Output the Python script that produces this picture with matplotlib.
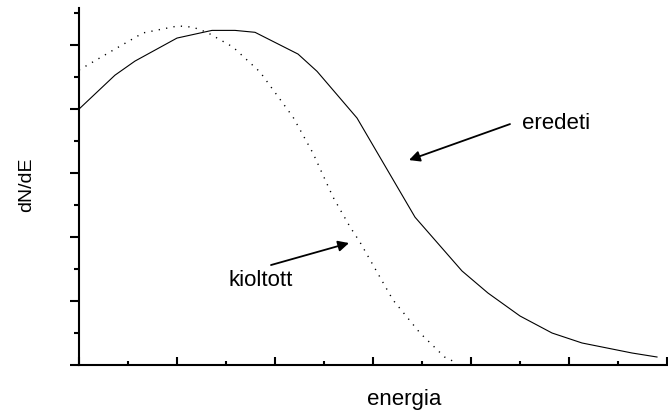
import matplotlib
matplotlib.use("Agg")
import matplotlib.pyplot as plt
from matplotlib.ticker import MultipleLocator, NullFormatter

plt.rcParams['font.family'] = ['Liberation Sans', 'DejaVu Sans']

# original spectrum ("eredeti")
energy_orig = [0.0, 0.367, 0.571, 1.0, 1.357, 1.592, 1.796, 2.235, 2.429, 2.837,
               3.429, 3.908, 4.173, 4.5, 4.827, 5.133, 5.643, 5.898]
dnde_orig = [4.0, 4.53, 4.75, 5.11, 5.23, 5.23, 5.20, 4.86, 4.59, 3.86,
             2.31, 1.47, 1.125, 0.766, 0.5, 0.344, 0.1875, 0.125]

# quenched spectrum ("kioltott")
energy_quen = [0.0, 0.347, 0.653, 1.01, 1.163, 1.306, 1.571, 1.847, 2.184, 2.388,
               2.592, 2.765, 2.867, 3.204, 3.48, 3.73, 3.857]
dnde_quen = [4.61, 4.92, 5.19, 5.30, 5.28, 5.20, 4.97, 4.58, 3.875, 3.31,
             2.625, 2.16, 1.92, 1.016, 0.5, 0.125, 0.03]

fig = plt.figure(figsize=(6.68, 4.12), dpi=100)
ax = fig.add_axes([79 / 668, 1 - 365 / 412, 588 / 668, 357 / 412])

ax.plot(energy_orig, dnde_orig, color='black', lw=0.8)
ax.plot(energy_quen, dnde_quen, color='black', lw=1.0, linestyle=(0, (0.9, 4.5)))

ax.set_xlim(0, 6)
ax.set_ylim(0, 5.58)

for side in ('top', 'right'):
    ax.spines[side].set_visible(False)
for side in ('left', 'bottom'):
    ax.spines[side].set_linewidth(1.5)

ax.xaxis.set_major_locator(MultipleLocator(1))
ax.xaxis.set_minor_locator(MultipleLocator(0.5))
ax.yaxis.set_major_locator(MultipleLocator(1))
ax.yaxis.set_minor_locator(MultipleLocator(0.5))
ax.xaxis.set_major_formatter(NullFormatter())
ax.yaxis.set_major_formatter(NullFormatter())

ax.tick_params(axis='x', which='major', direction='in', length=6, width=1.5)
ax.tick_params(axis='x', which='minor', direction='in', length=3, width=1.5)
ax.tick_params(axis='y', which='major', direction='out', length=6.5, width=1.5)
ax.tick_params(axis='y', which='minor', direction='out', length=3.5, width=1.5)

fig.text(27 / 668, 1 - 185 / 412, 'dN/dE', rotation=90, ha='center', va='center',
         fontsize=14)
fig.text(404 / 668, 1 - 399 / 412, 'energia', ha='center', va='center', fontsize=16)

arrow = dict(arrowstyle='-|>', color='black', lw=1.3, mutation_scale=16,
             shrinkA=0, shrinkB=0)
ax.annotate('', xy=((409 - 79) / 98, (365 - 160) / 64),
            xytext=((510 - 79) / 98, (365 - 124) / 64), arrowprops=arrow)
ax.text((522 - 79) / 98, (365 - 123) / 64, 'eredeti', ha='left', va='center',
        fontsize=16)
ax.annotate('', xy=((349 - 79) / 98, (365 - 243) / 64),
            xytext=((271 - 79) / 98, (365 - 265) / 64), arrowprops=arrow)
ax.text((229 - 79) / 98, (365 - 280) / 64, 'kioltott', ha='left', va='center',
        fontsize=16)

fig.savefig('out.png', dpi=100)
